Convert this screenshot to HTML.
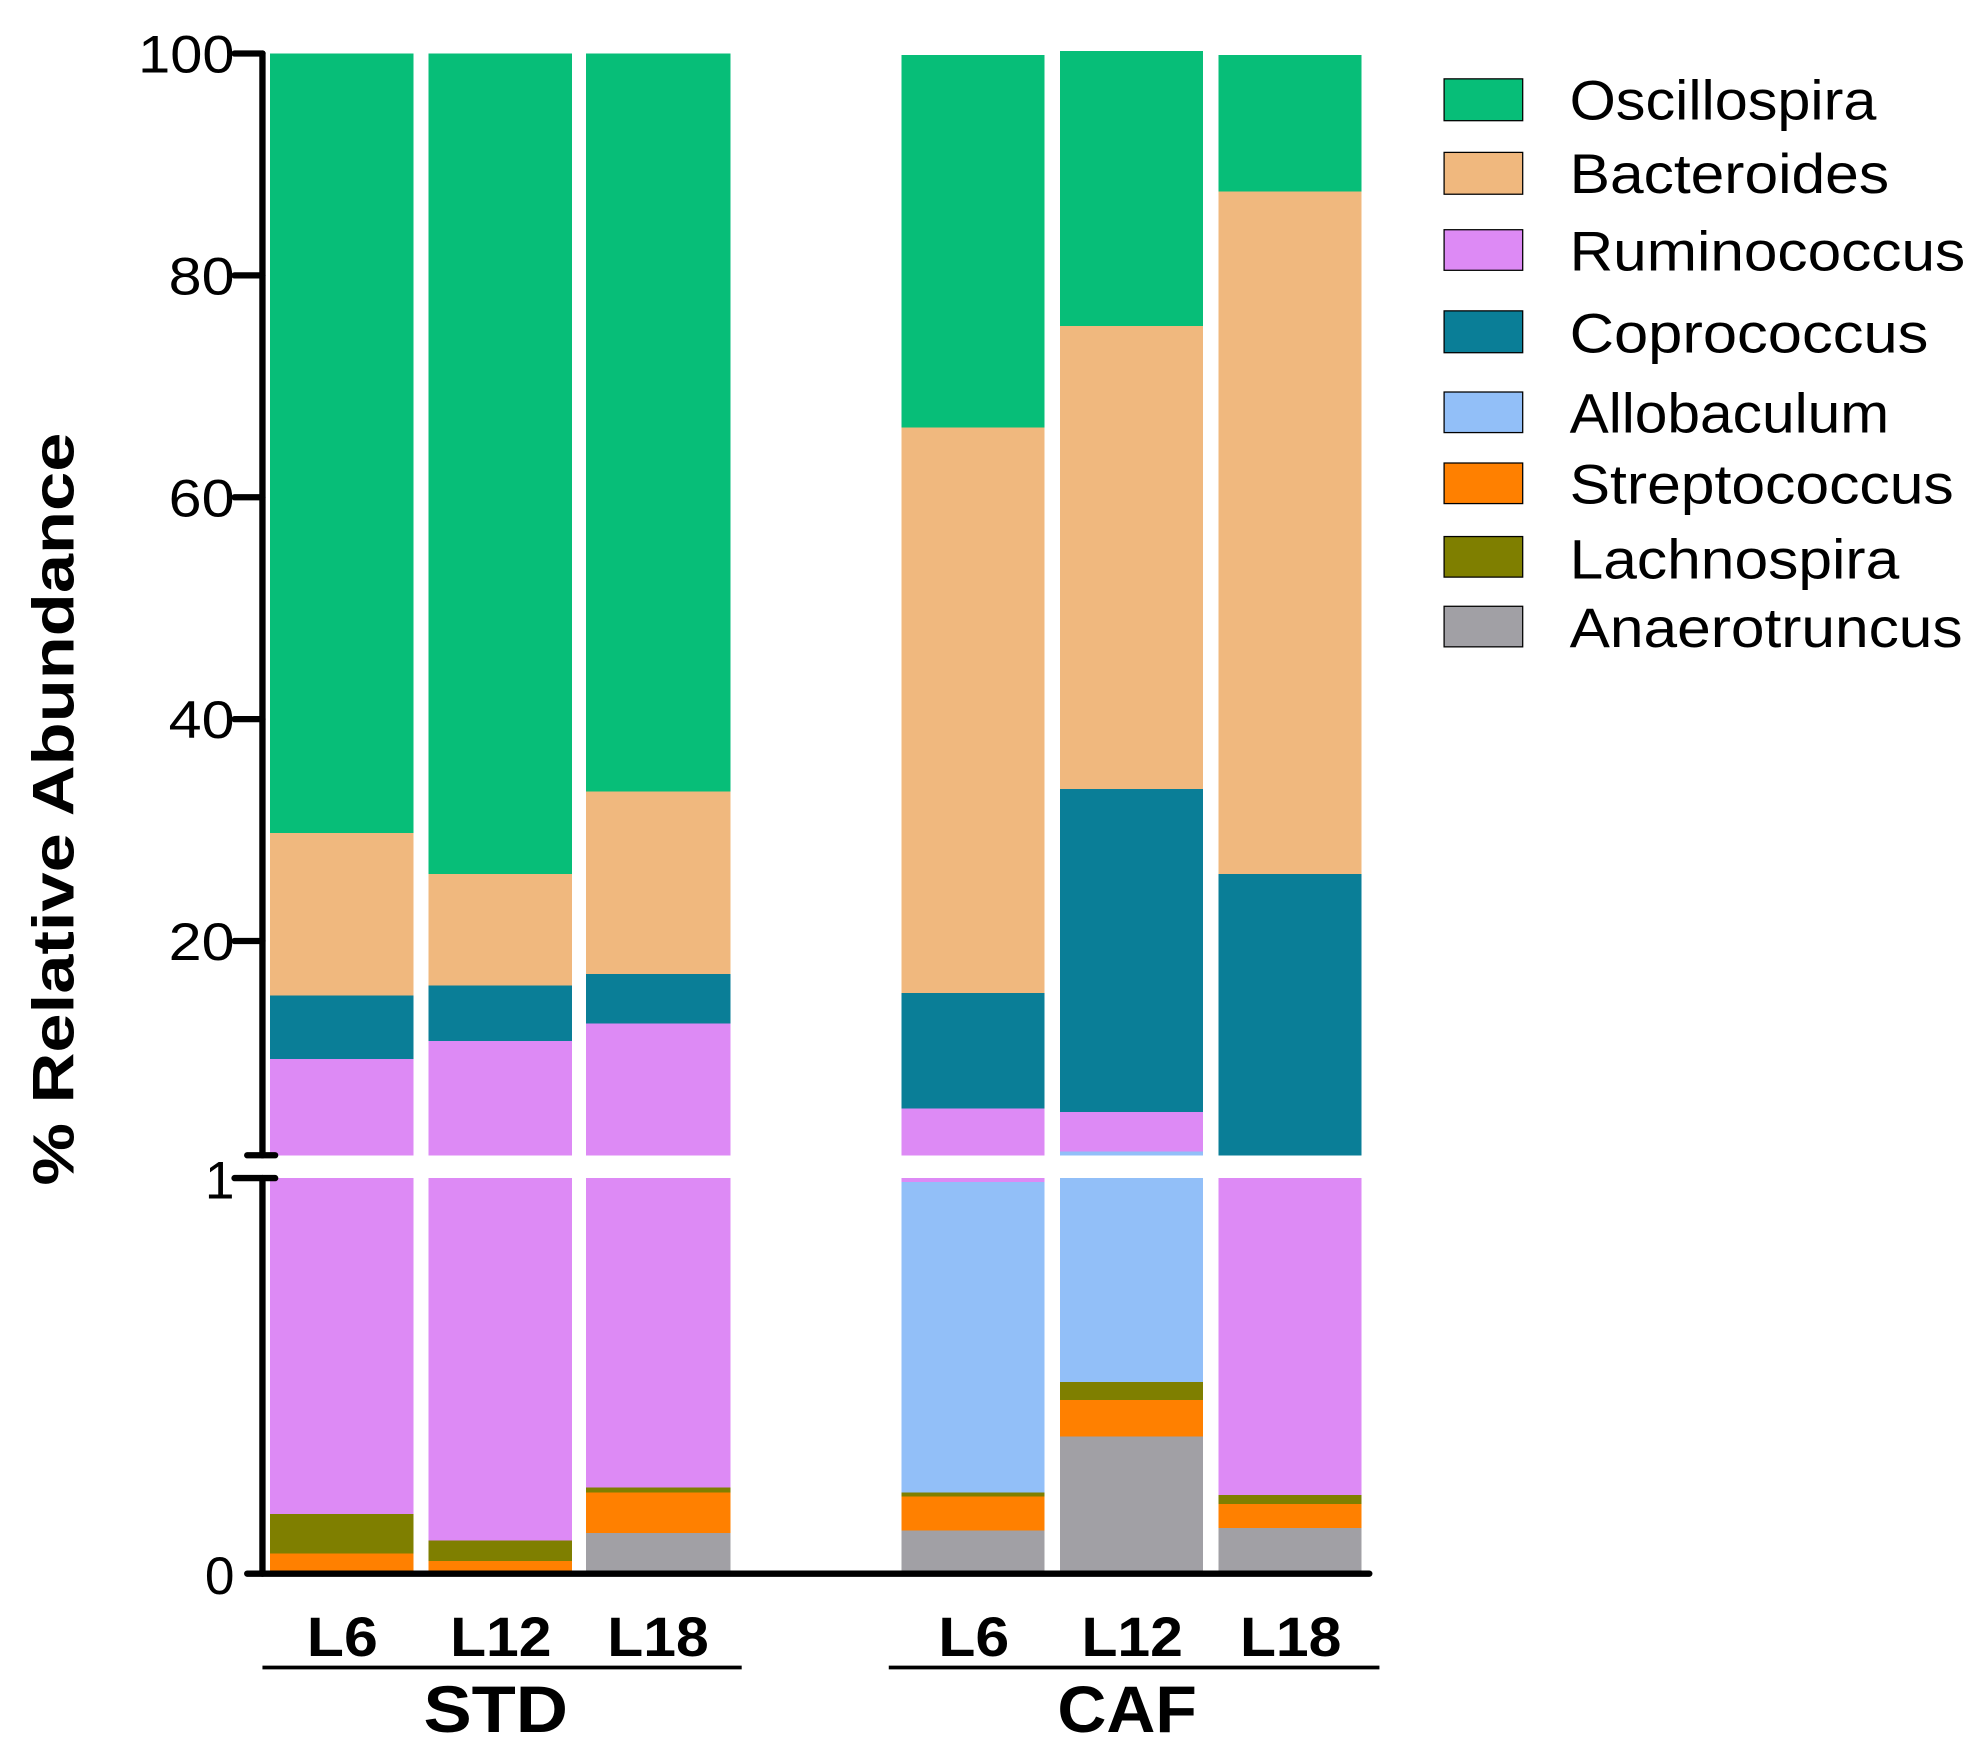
<!DOCTYPE html>
<html><head><style>html,body{margin:0;padding:0;background:#fff}svg{display:block}</style></head>
<body>
<svg width="1988" height="1759" viewBox="0 0 1568 1387" xmlns="http://www.w3.org/2000/svg" font-family="Liberation Sans, Arial, sans-serif">
<g shape-rendering="crispEdges">
<rect x="213" y="42" width="113" height="615" fill="#07BE78"/>
<rect x="213" y="657" width="113" height="128" fill="#F0B87E"/>
<rect x="213" y="785" width="113" height="50" fill="#0A7E97"/>
<rect x="213" y="835" width="113" height="76" fill="#DD8AF5"/>
<rect x="213" y="929" width="113" height="265" fill="#DD8AF5"/>
<rect x="213" y="1194" width="113" height="31" fill="#7F7F00"/>
<rect x="213" y="1225" width="113" height="14" fill="#FF8000"/>
<rect x="338" y="42" width="113" height="647" fill="#07BE78"/>
<rect x="338" y="689" width="113" height="88" fill="#F0B87E"/>
<rect x="338" y="777" width="113" height="44" fill="#0A7E97"/>
<rect x="338" y="821" width="113" height="90" fill="#DD8AF5"/>
<rect x="338" y="929" width="113" height="286" fill="#DD8AF5"/>
<rect x="338" y="1215" width="113" height="16" fill="#7F7F00"/>
<rect x="338" y="1231" width="113" height="8" fill="#FF8000"/>
<rect x="462" y="42" width="114" height="582" fill="#07BE78"/>
<rect x="462" y="624" width="114" height="144" fill="#F0B87E"/>
<rect x="462" y="768" width="114" height="39" fill="#0A7E97"/>
<rect x="462" y="807" width="114" height="104" fill="#DD8AF5"/>
<rect x="462" y="929" width="114" height="244" fill="#DD8AF5"/>
<rect x="462" y="1173" width="114" height="4" fill="#7F7F00"/>
<rect x="462" y="1177" width="114" height="32" fill="#FF8000"/>
<rect x="462" y="1209" width="114" height="30" fill="#A1A0A5"/>
<rect x="711" y="43" width="113" height="294" fill="#07BE78"/>
<rect x="711" y="337" width="113" height="446" fill="#F0B87E"/>
<rect x="711" y="783" width="113" height="91" fill="#0A7E97"/>
<rect x="711" y="874" width="113" height="37" fill="#DD8AF5"/>
<rect x="711" y="929" width="113" height="3" fill="#DD8AF5"/>
<rect x="711" y="932" width="113" height="245" fill="#92BFF8"/>
<rect x="711" y="1177" width="113" height="3" fill="#7F7F00"/>
<rect x="711" y="1180" width="113" height="27" fill="#FF8000"/>
<rect x="711" y="1207" width="113" height="32" fill="#A1A0A5"/>
<rect x="836" y="40" width="113" height="217" fill="#07BE78"/>
<rect x="836" y="257" width="113" height="365" fill="#F0B87E"/>
<rect x="836" y="622" width="113" height="255" fill="#0A7E97"/>
<rect x="836" y="877" width="113" height="31" fill="#DD8AF5"/>
<rect x="836" y="908" width="113" height="3" fill="#92BFF8"/>
<rect x="836" y="929" width="113" height="161" fill="#92BFF8"/>
<rect x="836" y="1090" width="113" height="14" fill="#7F7F00"/>
<rect x="836" y="1104" width="113" height="29" fill="#FF8000"/>
<rect x="836" y="1133" width="113" height="106" fill="#A1A0A5"/>
<rect x="961" y="43" width="113" height="108" fill="#07BE78"/>
<rect x="961" y="151" width="113" height="538" fill="#F0B87E"/>
<rect x="961" y="689" width="113" height="222" fill="#0A7E97"/>
<rect x="961" y="929" width="113" height="250" fill="#DD8AF5"/>
<rect x="961" y="1179" width="113" height="7" fill="#7F7F00"/>
<rect x="961" y="1186" width="113" height="19" fill="#FF8000"/>
<rect x="961" y="1205" width="113" height="34" fill="#A1A0A5"/>
</g>
<g stroke="#000" stroke-width="5" stroke-linecap="round" fill="none">
<line x1="207" y1="42" x2="207" y2="911"/>
<line x1="207" y1="929" x2="207" y2="1241"/>
<line x1="195" y1="1241" x2="1080" y2="1241"/>
<line x1="185" y1="42" x2="207" y2="42"/>
<line x1="185" y1="217" x2="207" y2="217"/>
<line x1="185" y1="392" x2="207" y2="392"/>
<line x1="185" y1="567" x2="207" y2="567"/>
<line x1="185" y1="742" x2="207" y2="742"/>
<line x1="195" y1="911" x2="217" y2="911"/>
<line x1="185" y1="929" x2="217" y2="929"/>
</g>
<g font-size="42" text-anchor="end" fill="#000">
<text x="185" y="57" textLength="76" lengthAdjust="spacingAndGlyphs">100</text>
<text x="185" y="232" textLength="52" lengthAdjust="spacingAndGlyphs">80</text>
<text x="185" y="407" textLength="52" lengthAdjust="spacingAndGlyphs">60</text>
<text x="185" y="582" textLength="52" lengthAdjust="spacingAndGlyphs">40</text>
<text x="185" y="757" textLength="52" lengthAdjust="spacingAndGlyphs">20</text>
<text x="185" y="945">1</text>
<text x="185" y="1257">0</text>
</g>
<text transform="translate(58,638) rotate(-90)" text-anchor="middle" font-size="46" font-weight="bold" textLength="594" lengthAdjust="spacingAndGlyphs">% Relative Abundance</text>
<g font-size="44" font-weight="bold" text-anchor="middle">
<text x="270" y="1306" textLength="56" lengthAdjust="spacingAndGlyphs">L6</text>
<text x="395" y="1306" textLength="80" lengthAdjust="spacingAndGlyphs">L12</text>
<text x="519" y="1306" textLength="80" lengthAdjust="spacingAndGlyphs">L18</text>
<text x="768" y="1306" textLength="56" lengthAdjust="spacingAndGlyphs">L6</text>
<text x="893" y="1306" textLength="80" lengthAdjust="spacingAndGlyphs">L12</text>
<text x="1018" y="1306" textLength="80" lengthAdjust="spacingAndGlyphs">L18</text>
<text x="391" y="1366" font-size="52" textLength="114" lengthAdjust="spacingAndGlyphs">STD</text>
<text x="889" y="1366" font-size="52" textLength="110" lengthAdjust="spacingAndGlyphs">CAF</text>
</g>
<g stroke="#000" stroke-width="3">
<line x1="207" y1="1315" x2="585" y2="1315"/>
<line x1="701" y1="1315" x2="1088" y2="1315"/>
</g>
<g stroke="#000" stroke-width="1">
<rect x="1139" y="62" width="62" height="33" fill="#07BE78"/>
<rect x="1139" y="120" width="62" height="33" fill="#F0B87E"/>
<rect x="1139" y="181" width="62" height="32" fill="#DD8AF5"/>
<rect x="1139" y="245" width="62" height="33" fill="#0A7E97"/>
<rect x="1139" y="309" width="62" height="32" fill="#92BFF8"/>
<rect x="1139" y="365" width="62" height="32" fill="#FF8000"/>
<rect x="1139" y="423" width="62" height="32" fill="#7F7F00"/>
<rect x="1139" y="478" width="62" height="32" fill="#A1A0A5"/>
</g>
<g font-size="44" fill="#000" lengthAdjust="spacingAndGlyphs">
<text x="1238" y="94" textLength="242" lengthAdjust="spacingAndGlyphs">Oscillospira</text>
<text x="1238" y="152" textLength="252" lengthAdjust="spacingAndGlyphs">Bacteroides</text>
<text x="1238" y="213" textLength="312" lengthAdjust="spacingAndGlyphs">Ruminococcus</text>
<text x="1238" y="278" textLength="283" lengthAdjust="spacingAndGlyphs">Coprococcus</text>
<text x="1238" y="341" textLength="252" lengthAdjust="spacingAndGlyphs">Allobaculum</text>
<text x="1238" y="397" textLength="303" lengthAdjust="spacingAndGlyphs">Streptococcus</text>
<text x="1238" y="456" textLength="260" lengthAdjust="spacingAndGlyphs">Lachnospira</text>
<text x="1238" y="510" textLength="310" lengthAdjust="spacingAndGlyphs">Anaerotruncus</text>
</g>
</svg>
</body></html>
